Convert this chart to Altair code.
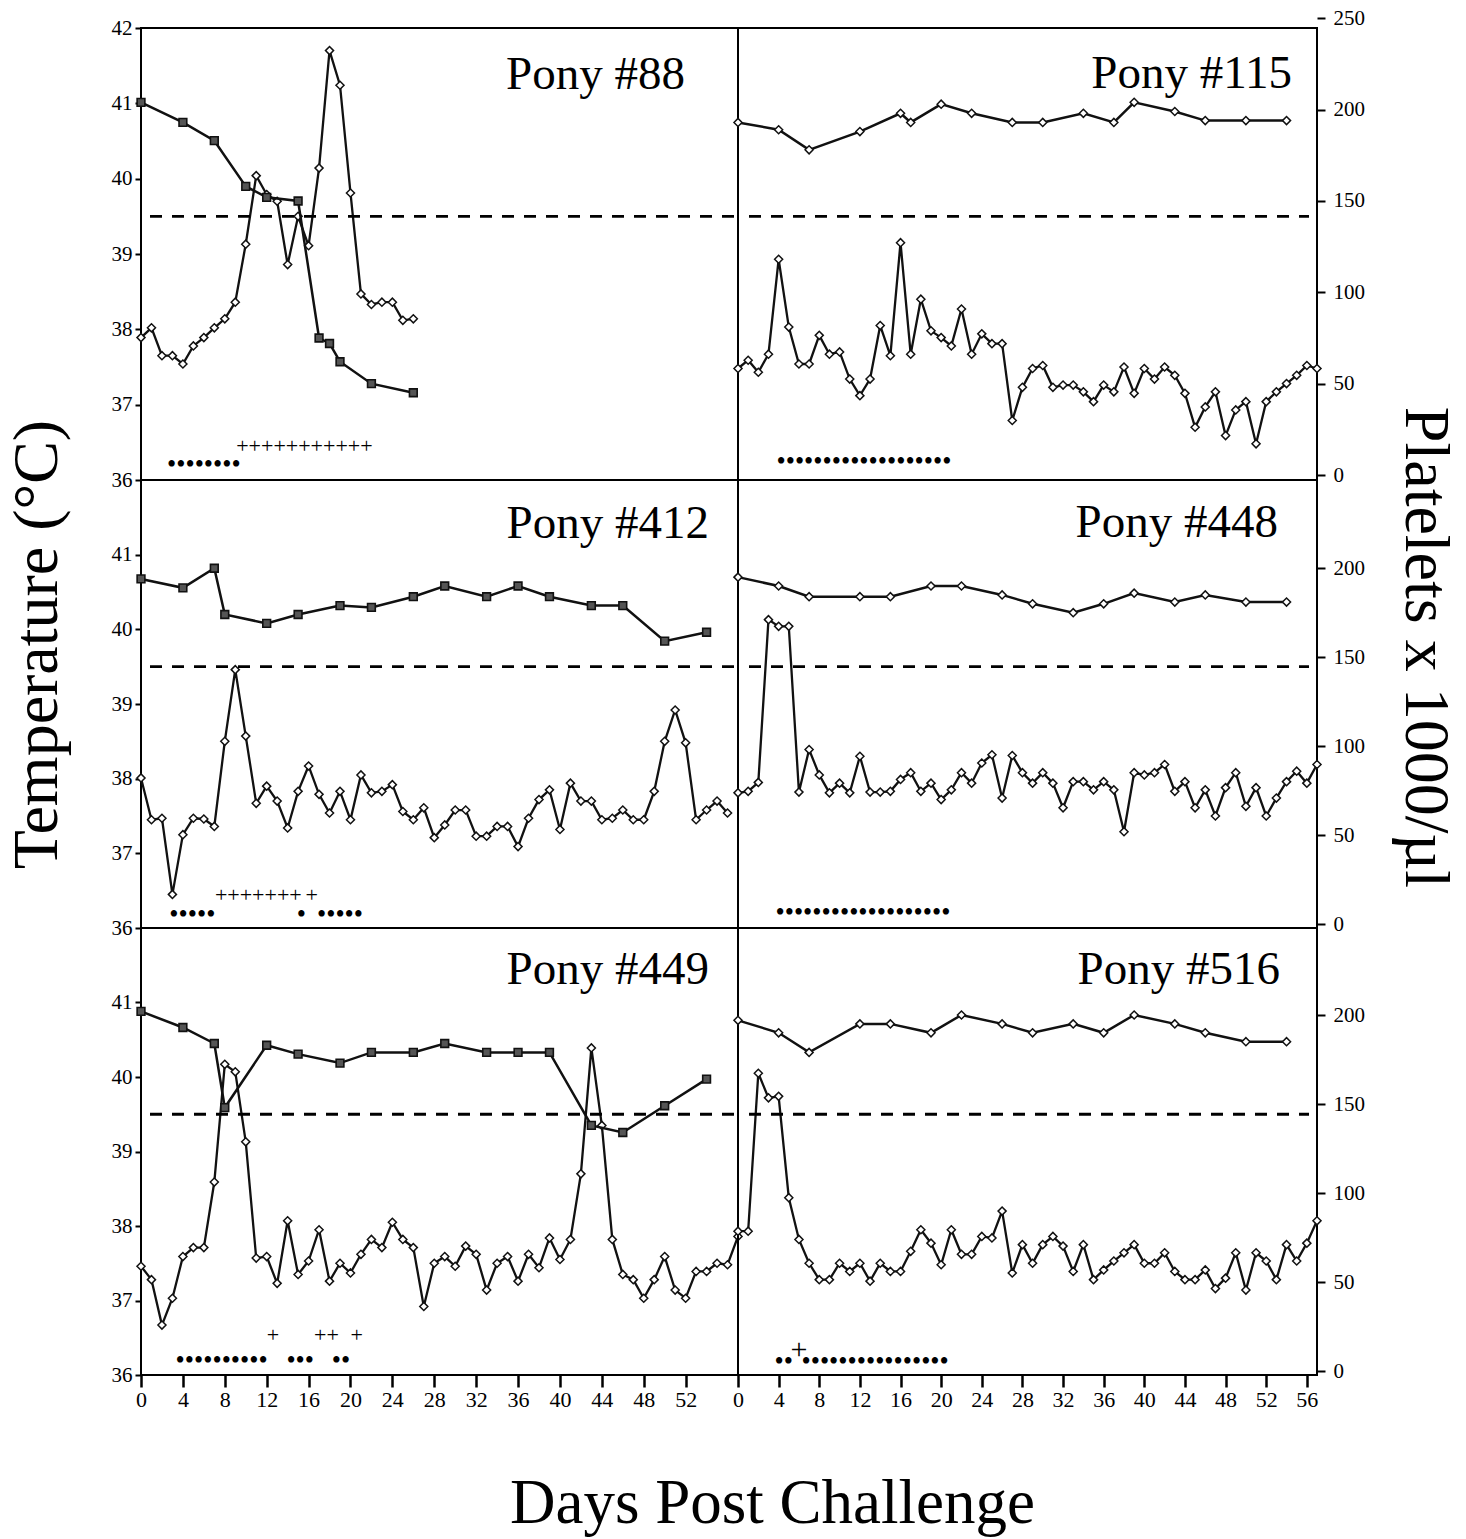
import altair as alt
import pandas as pd

FONT = "Liberation Serif"

# ---------------- data ----------------
# Temperatures are daily readings (day 0, 1, 2, ...)
temp_88 = [37.89, 38.02, 37.65, 37.65, 37.54, 37.78, 37.89, 38.02, 38.14, 38.36,
           39.13, 40.04, 39.79, 39.70, 38.86, 39.50, 39.11, 40.14, 41.70, 41.24,
           39.81, 38.47, 38.33, 38.36, 38.36, 38.12, 38.14]
plt_days_88 = [0, 4, 7, 10, 12, 15, 17, 18, 19, 22, 26]
plt_88 = [204, 193, 183, 158, 152, 150, 75, 72, 62, 50, 45]

temp_115 = [37.48, 37.59, 37.43, 37.67, 38.93, 38.03, 37.54, 37.54, 37.92, 37.67,
            37.70, 37.34, 37.12, 37.34, 38.05, 37.65, 39.15, 37.67, 38.40, 37.98,
            37.89, 37.78, 38.27, 37.67, 37.94, 37.81, 37.81, 36.79, 37.23, 37.48,
            37.52, 37.23, 37.26, 37.26, 37.17, 37.04, 37.26, 37.17, 37.50, 37.15,
            37.48, 37.34, 37.50, 37.39, 37.15, 36.70, 36.97, 37.17, 36.59, 36.93,
            37.04, 36.48, 37.04, 37.17, 37.28, 37.39, 37.52, 37.48]
plt_days_115 = [0, 4, 7, 12, 16, 17, 20, 23, 27, 30, 34, 37, 39, 43, 46, 50, 54]
plt_115 = [193, 189, 178, 188, 198, 193, 203, 198, 193, 193, 198, 193, 204, 199, 194, 194, 194]

temp_412 = [38.01, 37.45, 37.47, 36.45, 37.25, 37.47, 37.46, 37.36, 38.50, 39.46,
            38.57, 37.67, 37.90, 37.70, 37.34, 37.83, 38.17, 37.79, 37.54, 37.83,
            37.45, 38.05, 37.81, 37.83, 37.92, 37.56, 37.45, 37.61, 37.21, 37.38,
            37.58, 37.58, 37.23, 37.23, 37.36, 37.36, 37.09, 37.47, 37.72, 37.85,
            37.32, 37.94, 37.70, 37.70, 37.45, 37.47, 37.58, 37.45, 37.45, 37.83,
            38.50, 38.92, 38.48, 37.45, 37.58, 37.70, 37.54]
plt_days_412 = [0, 4, 7, 8, 12, 15, 19, 22, 26, 29, 33, 36, 39, 43, 46, 50, 54]
plt_412 = [194, 189, 200, 174, 169, 174, 179, 178, 184, 190, 184, 190, 184, 179, 179, 159, 164]

temp_448 = [37.81, 37.83, 37.95, 40.13, 40.04, 40.04, 37.82, 38.39, 38.05, 37.81,
            37.94, 37.81, 38.30, 37.82, 37.82, 37.83, 37.99, 38.08, 37.83, 37.94,
            37.72, 37.85, 38.08, 37.94, 38.21, 38.32, 37.74, 38.31, 38.08, 37.94,
            38.08, 37.94, 37.61, 37.96, 37.96, 37.85, 37.96, 37.85, 37.29, 38.08,
            38.05, 38.08, 38.19, 37.83, 37.96, 37.61, 37.85, 37.50, 37.88, 38.08,
            37.63, 37.88, 37.50, 37.74, 37.96, 38.10, 37.94, 38.19]
plt_days_448 = [0, 4, 7, 12, 15, 19, 22, 26, 29, 33, 36, 39, 43, 46, 50, 54]
plt_448 = [195, 190, 184, 184, 184, 190, 190, 185, 180, 175, 180, 186, 181, 185, 181, 181]

temp_449 = [37.46, 37.28, 36.67, 37.03, 37.59, 37.71, 37.71, 38.59, 40.17, 40.07,
            39.13, 37.57, 37.59, 37.23, 38.07, 37.35, 37.53, 37.95, 37.26, 37.50,
            37.37, 37.62, 37.82, 37.71, 38.05, 37.82, 37.71, 36.92, 37.50, 37.59,
            37.46, 37.73, 37.62, 37.14, 37.50, 37.59, 37.26, 37.62, 37.44, 37.84,
            37.55, 37.82, 38.70, 40.39, 39.35, 37.82, 37.35, 37.28, 37.03, 37.28,
            37.59, 37.14, 37.03, 37.39, 37.39, 37.50, 37.48, 37.86]
plt_days_449 = [0, 4, 7, 8, 12, 15, 19, 22, 26, 29, 33, 36, 39, 43, 46, 50, 54]
plt_449 = [202, 193, 184, 148, 183, 178, 173, 179, 179, 184, 179, 179, 179, 138, 134, 149, 164]

temp_516 = [37.93, 37.93, 40.05, 39.72, 39.74, 38.38, 37.82, 37.50, 37.28, 37.28,
            37.50, 37.39, 37.50, 37.26, 37.50, 37.39, 37.39, 37.66, 37.95, 37.77,
            37.48, 37.95, 37.62, 37.62, 37.86, 37.84, 38.20, 37.37, 37.75, 37.50,
            37.75, 37.86, 37.73, 37.39, 37.75, 37.28, 37.41, 37.53, 37.64, 37.75,
            37.50, 37.50, 37.64, 37.39, 37.28, 37.28, 37.41, 37.16, 37.30, 37.64,
            37.14, 37.64, 37.53, 37.28, 37.75, 37.53, 37.77, 38.07]
plt_days_516 = [0, 4, 7, 12, 15, 19, 22, 26, 29, 33, 36, 39, 43, 46, 50, 54]
plt_516 = [197, 190, 179, 195, 195, 190, 200, 195, 190, 195, 190, 200, 195, 190, 185, 185]

# typed symbol rows under each curve: (kind, text, centre day, level in deg C)
marks_88 = [("dot", "••••••••", 6.0, 36.20), ("plus", "+++++++++++", 15.6, 36.45)]
marks_115 = [("dot", "•••••••••••••••••••", 12.4, 36.24)]
marks_412 = [("dot", "•••••", 4.9, 36.18), ("dot", "•", 15.3, 36.18), ("dot", "•••••", 19.0, 36.18),
             ("plus", "+++++++", 11.2, 36.44), ("plus", "+", 16.3, 36.44)]
marks_448 = [("dot", "•••••••••••••••••••", 12.3, 36.20)]
marks_449 = [("dot", "••••••••••", 7.7, 36.19), ("dot", "•••", 15.2, 36.19), ("dot", "••", 19.1, 36.19),
             ("plus", "+", 12.6, 36.54), ("plus", "++", 17.7, 36.54), ("plus", "+", 20.6, 36.54)]
marks_516 = [("dot", "••", 4.5, 36.18), ("bigplus", "+", 6.0, 36.34),
             ("dot", "••••••••••••••••", 13.5, 36.18)]

# ---------------- layout / style ----------------
W = {"L": 597, "R": 579}
H = [452, 448, 447]
PLT_RANGE = [[447, -9.7], [444, -0.7], [443, -2]]
LINE = "#111111"
SYM_SIZE = {"dot": 26.3, "plus": 22, "bigplus": 30}


def panel(label, temps, pdays, pvals, marks, side, row, lab_x, lab_y, square):
    w, h = W[side], H[row]
    xs = alt.Scale(domain=[0, 57], nice=False, zero=False)
    ts = alt.Scale(domain=[36, 42], nice=False, zero=False)
    ps = alt.Scale(domain=[0, 250], range=PLT_RANGE[row], nice=False, zero=False)

    tdf = pd.DataFrame({"day": list(range(len(temps))), "temp": temps})
    pdf = pd.DataFrame({"day": pdays, "plt": pvals})
    mdf = pd.DataFrame(marks, columns=["kind", "sym", "day", "level"])

    if row == 2:
        ax_kw = dict(values=list(range(0, 53 if side == "L" else 57, 4)), tickSize=12,
                     tickWidth=2.5, labelFontSize=22, labelPadding=2, domain=False,
                     grid=False, labelFlush=False, labelOverlap=False, labelFont=FONT)
        if side == "L":
            xaxis = alt.Axis(title="Days Post Challenge", titleFontSize=63, titleX=631,
                             titleY=147, titleAlign="center", titleBaseline="alphabetic",
                             titleFont=FONT, titleFontWeight="normal", **ax_kw)
        else:
            xaxis = alt.Axis(title=None, **ax_kw)
    else:
        xaxis = None

    if side == "L":
        tkw = dict(orient="left", values=list(range(36, 43 if row == 0 else 42)),
                   tickSize=6, tickWidth=2, labelPadding=3, labelFontSize=21,
                   domain=False, grid=False, labelFlush=False, labelOverlap=False,
                   labelFont=FONT)
        if row == 1:
            taxis = alt.Axis(title="Temperature (°C)", titleFontSize=64, titleAngle=270,
                             titleX=-104, titleY=164, titleAlign="center",
                             titleBaseline="middle", titleFont=FONT,
                             titleFontWeight="normal", **tkw)
        else:
            taxis = alt.Axis(title=None, **tkw)
        paxis = None
    else:
        taxis = None
        pkw = dict(orient="right", values=list(range(0, 251 if row == 0 else 201, 50)),
                   tickSize=8, tickWidth=2, labelPadding=8, labelFontSize=21,
                   domain=False, grid=False, labelFlush=False, labelOverlap=False,
                   labelFont=FONT)
        if row == 1:
            paxis = alt.Axis(title="Platelets x 1000/µl", titleFontSize=64, titleAngle=90,
                             titleX=107, titleY=167, titleAlign="center",
                             titleBaseline="middle", titleFont=FONT,
                             titleFontWeight="normal", **pkw)
        else:
            paxis = alt.Axis(title=None, **pkw)

    diamond = alt.OverlayMarkDef(shape="diamond", filled=True, fill="white",
                                 stroke=LINE, strokeWidth=1.5, size=65)
    sq = alt.OverlayMarkDef(shape="square", filled=True, fill="#555555",
                            stroke=LINE, strokeWidth=1.6, size=60)

    X = alt.X("day:Q", scale=xs, axis=xaxis)

    temp_layer = alt.Chart(tdf).mark_line(color=LINE, strokeWidth=2.3, point=diamond).encode(
        x=X,
        y=alt.Y("temp:Q", scale=ts, axis=taxis),
    )
    plt_layer = alt.Chart(pdf).mark_line(color=LINE, strokeWidth=2.5,
                                          point=sq if square else diamond).encode(
        x=X,
        y=alt.Y("plt:Q", scale=ps, axis=paxis),
    )
    x_start, x_end = (9, w) if side == "L" else (11, w - 8)
    dash = alt.Chart(pd.DataFrame({"t": [39.5]})).mark_rule(
        color="black", strokeWidth=2.8, strokeDash=[12, 10]).encode(
        y=alt.Y("t:Q", scale=ts, axis=None),
        x=alt.value(x_start), x2=alt.value(x_end),
    )
    sym_layers = []
    for kind, fs in SYM_SIZE.items():
        sub = mdf[mdf["kind"] == kind]
        if len(sub) == 0:
            continue
        sym_layers.append(
            alt.Chart(sub).mark_text(font=FONT, fontSize=fs, color="black",
                                     align="center", baseline="middle").encode(
                x=X,
                y=alt.Y("level:Q", scale=ts, axis=None),
                text="sym:N",
            )
        )
    lab = alt.Chart(pd.DataFrame({"label": [label]})).mark_text(
        font=FONT, fontSize=47, color="black", align="right", baseline="alphabetic").encode(
        x=alt.value(lab_x), y=alt.value(lab_y), text="label:N")

    return alt.layer(temp_layer, plt_layer, dash, *sym_layers, lab).resolve_scale(
        y="independent").properties(width=w, height=h)


p88 = panel("Pony #88", temp_88, plt_days_88, plt_88, marks_88, "L", 0, 544, 61, True)
p115 = panel("Pony #115", temp_115, plt_days_115, plt_115, marks_115, "R", 0, 554, 60, False)
p412 = panel("Pony #412", temp_412, plt_days_412, plt_412, marks_412, "L", 1, 568, 58, True)
p448 = panel("Pony #448", temp_448, plt_days_448, plt_448, marks_448, "R", 1, 540, 57, False)
p449 = panel("Pony #449", temp_449, plt_days_449, plt_449, marks_449, "L", 2, 568, 56, True)
p516 = panel("Pony #516", temp_516, plt_days_516, plt_516, marks_516, "R", 2, 542, 56, False)

chart = alt.concat(p88, p115, p412, p448, p449, p516, columns=2, spacing=0,
                   bounds="flush").properties(
    padding={"left": 3, "top": 6, "right": 5, "bottom": 5},
    background="white",
).configure_view(stroke="black", strokeWidth=2).configure_axis(
    labelFont=FONT, labelColor="black", tickColor="black", titleColor="black"
)

chart.save("out.html", embed_options={"renderer": "svg", "actions": False})
